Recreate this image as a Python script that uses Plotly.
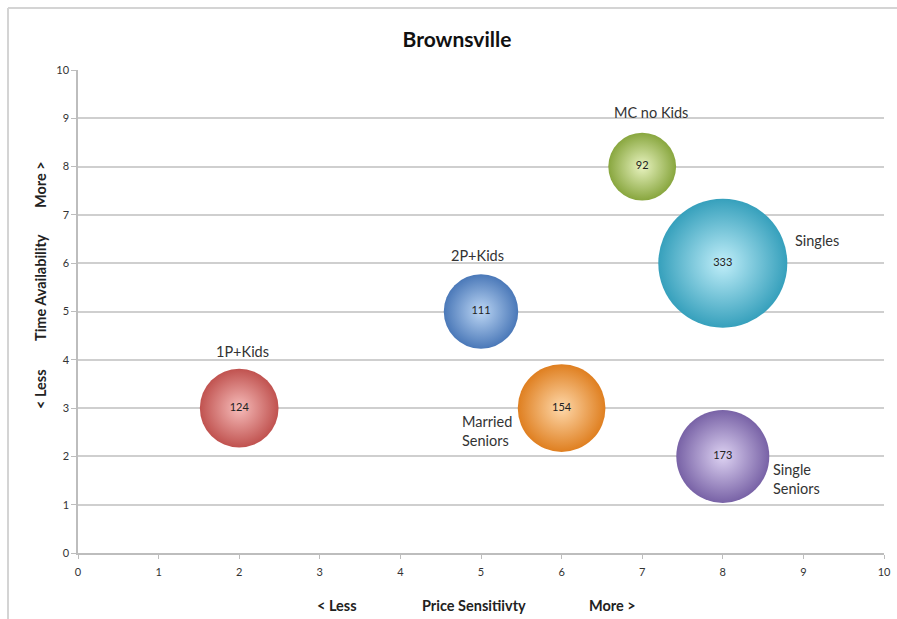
import plotly.graph_objects as go

# Data
segments = ["1P+Kids", "2P+Kids", "MC no Kids", "Singles", "Married<br>Seniors", "Single<br>Seniors"]
price_sensitivity = [2, 5, 7, 8, 6, 8]
time_availability = [3, 5, 8, 6, 3, 2]
households = [124, 111, 92, 333, 154, 173]

x_ticks = list(range(0, 11))
y_ticks = list(range(0, 11))

# Styles
center_colors = ["#f6bcba", "#bcd6f4", "#e8f3c0", "#c0eef9", "#fed8aa", "#ddd2f2"]
edge_colors = ["#c0524f", "#4a78b8", "#88a63e", "#36a0bc", "#df7f20", "#7862a6"]
label_style = [
    dict(xanchor="center", yanchor="bottom", xshift=3, yshift=46),
    dict(xanchor="center", yanchor="bottom", xshift=-4, yshift=46),
    dict(xanchor="center", yanchor="bottom", xshift=9, yshift=44),
    dict(xanchor="left", yanchor="middle", xshift=70, yshift=23),
    dict(xanchor="right", yanchor="middle", xshift=-48, yshift=-23),
    dict(xanchor="left", yanchor="middle", xshift=48, yshift=-23),
]

SIZEREF = 2 * 333 / 129 ** 2
FONT = "Lato, 'Open Sans', sans-serif"

fig = go.Figure()
for i, seg in enumerate(segments):
    fig.add_trace(go.Scatter(
        x=[price_sensitivity[i]], y=[time_availability[i]],
        mode="markers+text",
        text=[str(households[i])],
        textposition="middle center",
        textfont=dict(family=FONT, size=11, color="#222"),
        marker=dict(
            size=[households[i]], sizemode="area", sizeref=SIZEREF,
            color=edge_colors[i],
            gradient=dict(type="radial", color=center_colors[i]),
            line=dict(width=0),
            opacity=1,
        ),
        name=seg.replace("<br>", " "),
        hoverinfo="skip",
        cliponaxis=False,
        showlegend=False,
    ))

annotations = []
for i, seg in enumerate(segments):
    annotations.append(dict(
        x=price_sensitivity[i], y=time_availability[i], xref="x", yref="y",
        text=seg, showarrow=False, align="left",
        font=dict(family=FONT, size=14.5, color="#333"),
        **label_style[i],
    ))

# axis titles
ax_font = dict(family=FONT, size=14.5, color="#222")
for txt, px in [("<b>&lt; Less</b>", 337), ("<b>Price Sensitiivty</b>", 474), ("<b>More &gt;</b>", 612)]:
    annotations.append(dict(x=(px - 78) / 806, y=(553 - 605) / 483, xref="paper", yref="paper",
                            text=txt, showarrow=False, font=ax_font, xanchor="center", yanchor="middle"))
for txt, py in [("<b>&lt; Less</b>", 389), ("<b>Time Availability</b>", 288), ("<b>More &gt;</b>", 185)]:
    annotations.append(dict(x=(40 - 78) / 806, y=(553 - py) / 483, xref="paper", yref="paper",
                            text=txt, showarrow=False, font=ax_font, textangle=-90,
                            xanchor="center", yanchor="middle"))

fig.update_layout(
    width=897, height=619,
    margin=dict(l=78, r=13, t=70, b=66, autoexpand=False),
    paper_bgcolor="white", plot_bgcolor="white",
    title=dict(text="<b>Brownsville</b>", x=457 / 897, xanchor="center", xref="container",
               y=1 - 40 / 619, yanchor="middle", yref="container",
               font=dict(family=FONT, size=21, color="#111")),
    annotations=annotations,
    shapes=[
        dict(type="line", xref="paper", yref="paper", x0=(8 - 78) / 806, x1=(899 - 78) / 806,
             y0=(553 - 8) / 483, y1=(553 - 8) / 483, line=dict(color="#d4d4d4", width=2)),
        dict(type="line", xref="paper", yref="paper", x0=(8 - 78) / 806, x1=(8 - 78) / 806,
             y0=(553 - 8) / 483, y1=(553 - 622) / 483, line=dict(color="#d4d4d4", width=2)),
    ],
)
fig.update_xaxes(
    range=[0, 10], tickvals=x_ticks, showgrid=False, zeroline=False, automargin=False,
    showline=True, linecolor="#bdbdbd", linewidth=1.5,
    ticks="outside", ticklen=4, tickcolor="#bdbdbd", ticklabelstandoff=4,
    tickfont=dict(family=FONT, size=11, color="#333"),
)
fig.update_yaxes(
    range=[0, 10], tickvals=y_ticks, showgrid=True, gridcolor="#cfcfcf", gridwidth=1.5,
    zeroline=False, showline=True, linecolor="#bdbdbd", linewidth=1.5, automargin=False,
    ticks="outside", ticklen=5, tickcolor="#bdbdbd",
    tickfont=dict(family=FONT, size=11, color="#333"),
)

fig.write_html("out.html")
